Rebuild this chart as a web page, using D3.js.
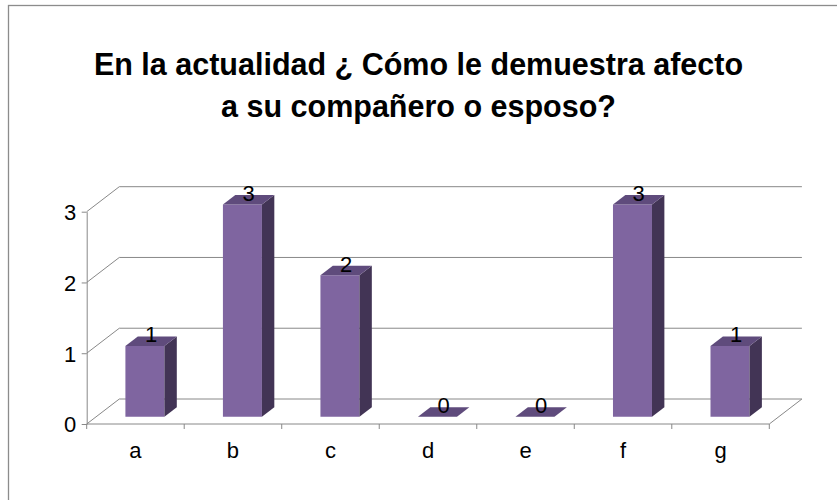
<!DOCTYPE html>
<html>
<head>
<meta charset="utf-8">
<script src="https://cdn.jsdelivr.net/npm/d3@7"></script>
<style>
  html, body { margin: 0; padding: 0; background: #fff; }
  text { font-family: Arial, "Liberation Sans", sans-serif; }
</style>
</head>
<body>
<div id="chart"></div>
<script>
// Data
const categories = ["a", "b", "c", "d", "e", "f", "g"];
const values = [1, 3, 2, 0, 0, 3, 1];
const yTicks = [0, 1, 2, 3];
const titleLines = ["En la actualidad ¿ Cómo le demuestra afecto", "a su compañero o esposo?"];

const width = 837, height = 500;

const svg = d3.select("#chart")
    .append("svg")
    .attr("width", width)
    .attr("height", height);

// outer frame (only top and left edges fall inside the picture)
svg.append("rect")
    .attr("x", 8.5).attr("y", 5.5)
    .attr("width", 900).attr("height", 600)
    .attr("fill", "none")
    .attr("stroke", "#8c8c8c")
    .attr("stroke-width", 1.3);

// title
svg.append("g").selectAll("text")
    .data(titleLines)
    .enter().append("text")
    .attr("x", 418.5)
    .attr("y", (d, i) => 75 + i * 42)
    .attr("text-anchor", "middle")
    .attr("font-weight", "bold")
    .attr("font-size", 30.5)
    .attr("fill", "#000")
    .text(d => d);

// scales (front plane) + depth offsets
const xScale = d3.scaleBand()
    .domain(categories)
    .range([86.7, 769.3])
    .padding(0);

const yScale = d3.scaleLinear()
    .domain([0, 3])
    .range([424, 211.7]);

const DX = 32.6, DY = 25;      // full depth of the floor
const z0 = 0.29, z1 = 0.67;    // bar front / back depth
const barW = xScale.bandwidth() * 0.4;

const P = (x, v, z) => [x + z * DX, yScale(v) - z * DY];
const pt = p => p.join(",");

const grid = svg.append("g")
    .attr("stroke", "#888")
    .attr("stroke-width", 1)
    .attr("fill", "none");

const [xL, xR] = xScale.range();

// wall gridlines: side diagonal + back line
yTicks.forEach(v => {
    grid.append("polyline")
        .attr("points", [P(xL, v, 0), P(xL, v, 1), P(xR, v, 1)].map(pt).join(" "));
});
// floor front edge and right edge
grid.append("polyline")
    .attr("points", [P(xL, 0, 0), P(xR, 0, 0), P(xR, 0, 1)].map(pt).join(" "));

// category tick marks at band boundaries
const bounds = categories.map(c => xScale(c)).concat([xR]);
grid.selectAll("line.xt")
    .data(bounds)
    .enter().append("line")
    .attr("x1", d => d).attr("x2", d => d)
    .attr("y1", yScale(0)).attr("y2", yScale(0) + 5);

// y axis
const yAxis = svg.append("g")
    .attr("transform", `translate(${xL},0)`)
    .call(d3.axisLeft(yScale).tickValues(yTicks).tickFormat(d3.format("d"))
        .tickSize(5).tickSizeOuter(0).tickPadding(5.5));
yAxis.select(".domain").attr("stroke", "#888");
yAxis.selectAll(".tick line").attr("stroke", "#888");
yAxis.selectAll(".tick text")
    .attr("font-size", 22)
    .attr("font-family", "Arial, 'Liberation Sans', sans-serif")
    .attr("fill", "#000")
    .attr("dy", "0.36em");

// category labels
svg.append("g").selectAll("text")
    .data(categories)
    .enter().append("text")
    .attr("x", d => xScale(d) + xScale.bandwidth() / 2)
    .attr("y", 457.5)
    .attr("text-anchor", "middle")
    .attr("font-size", 22)
    .attr("fill", "#000")
    .text(d => d);

// 3D bars
const bars = svg.append("g");
categories.forEach((c, i) => {
    const v = values[i];
    const cx = xScale(c) + xScale.bandwidth() / 2;
    const l = cx - barW / 2, r = cx + barW / 2;
    const g = bars.append("g");
    if (v > 0) {
        g.append("polygon")
            .attr("points", [P(l, 0, z0), P(r, 0, z0), P(r, v, z0), P(l, v, z0)].map(pt).join(" "))
            .attr("fill", "#7f65a0");
        g.append("polygon")
            .attr("points", [P(r, 0, z0), P(r, 0, z1), P(r, v, z1), P(r, v, z0)].map(pt).join(" "))
            .attr("fill", "#423455");
    }
    g.append("polygon")
        .attr("points", [P(l, v, z0), P(r, v, z0), P(r, v, z1), P(l, v, z1)].map(pt).join(" "))
        .attr("fill", "#5f4b7c");
});

// value labels
svg.append("g").selectAll("text")
    .data(values)
    .enter().append("text")
    .attr("x", (d, i) => P(xScale(categories[i]) + xScale.bandwidth() / 2, d, (z0 + z1) / 2)[0])
    .attr("y", d => P(0, d, z0)[1] - 3.5)
    .attr("text-anchor", "middle")
    .attr("font-size", 22)
    .attr("fill", "#000")
    .text(d => d);
</script>
</body>
</html>
